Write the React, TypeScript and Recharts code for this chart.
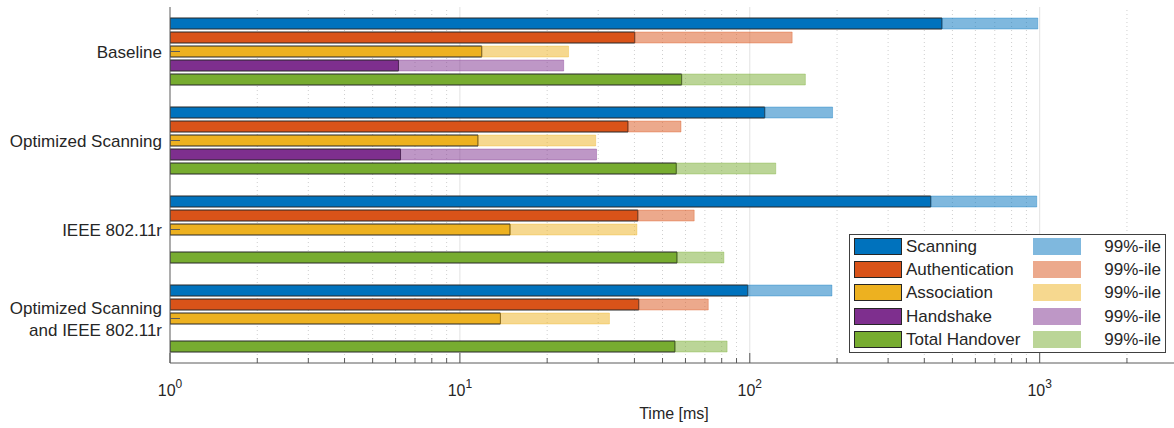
import { BarChart, Bar, XAxis, YAxis, ReferenceLine, Legend } from 'recharts'

// scenario groups (top to bottom)
const groups = ['Baseline', 'Optimized Scanning', 'IEEE 802.11r', 'Optimized Scanning\nand IEEE 802.11r']

// medians and 99th percentiles in ms
const scanningMedian = [460, 112.6, 421, 98.4]
const scanningP99 = [985, 193, 977, 192]
const authMedian = [40.1, 38.0, 41.1, 41.4]
const authP99 = [140, 57.9, 64.3, 71.9]
const assocMedian = [11.9, 11.55, 14.9, 13.8]
const assocP99 = [23.7, 29.4, 40.8, 32.8]
const handshakeMedian = [6.14, 6.24, null, null]
const handshakeP99 = [22.8, 29.6, null, null]
const totalMedian = [58.2, 55.8, 56.1, 55.2]
const totalP99 = [155.5, 122.9, 81.4, 83.5]

const seriesNames = ['Scanning', 'Authentication', 'Association', 'Handshake', 'Total Handover']
const seriesKeys = ['scan', 'auth', 'assoc', 'hand', 'total']
const medians = [scanningMedian, authMedian, assocMedian, handshakeMedian, totalMedian]
const p99s = [scanningP99, authP99, assocP99, handshakeP99, totalP99]

const xTicks = [
  1, 2, 3, 4, 5, 6, 7, 8, 9,
  10, 20, 30, 40, 50, 60, 70, 80, 90,
  100, 200, 300, 400, 500, 600, 700, 800, 900,
  1000, 2000, 3000,
]
const majorTicks = [1, 10, 100, 1000]

const COLORS = ['#0072BD', '#D95319', '#EDB120', '#7E2F8E', '#77AC30']
const TEXT = '#262626'
const AXIS = '#5a5a5a'
const FONT = '"Liberation Sans", Arial, Helvetica, sans-serif'

const data = groups.map((group, i) => {
  const row: Record<string, any> = { group }
  seriesKeys.forEach((k, s) => {
    const med = medians[s][i]
    const hi = p99s[s][i]
    row[k] = med
    row[k + 'P99'] = med != null && hi != null ? [med, hi] : null
  })
  return row
})

function XTick(props: any) {
  const { x, y, payload, top } = props
  const v = payload.value
  const major = majorTicks.includes(v)
  const len = major ? 10 : 5
  const exp = Math.round(Math.log10(v))
  if (top) {
    return <line x1={x} x2={x} y1={y} y2={y + len} stroke={AXIS} />
  }
  return (
    <g>
      <line x1={x} x2={x} y1={y} y2={y - len} stroke={AXIS} />
      {major && (
        <text x={x} y={y + 33} textAnchor="middle" fontSize={16} fill={TEXT} fontFamily={FONT}>
          10<tspan dy={-8} fontSize={12}>{exp}</tspan>
        </text>
      )}
    </g>
  )
}

function YTick(props: any) {
  const { x, y, payload, right } = props
  if (right) {
    return <line x1={x} x2={x - 10} y1={y} y2={y} stroke={AXIS} />
  }
  const lines = String(payload.value).split('\n')
  const start = y + 6.5 - ((lines.length - 1) * 22) / 2
  return (
    <g>
      <line x1={x} x2={x + 10} y1={y} y2={y} stroke={AXIS} />
      <text textAnchor="end" fontSize={17} fill={TEXT} fontFamily={FONT}>
        {lines.map((l, i) => (
          <tspan key={i} x={x - 8} y={start + i * 22}>{l}</tspan>
        ))}
      </text>
    </g>
  )
}

function LegendBox() {
  return (
    <div
      style={{
        position: 'relative',
        width: 315,
        height: 117,
        border: '1px solid #404040',
        background: '#fff',
        fontFamily: FONT,
        fontSize: 17,
        color: TEXT,
      }}
    >
      {seriesNames.map((name, s) => (
        <div key={name} style={{ position: 'absolute', left: 0, top: 3 + s * 23.2, width: '100%', height: 18 }}>
          <span
            style={{
              position: 'absolute', left: 4, top: 0, width: 46, height: 15,
              background: COLORS[s], border: '1px solid #262626',
            }}
          />
          <span style={{ position: 'absolute', left: 56, top: -1, lineHeight: '20px', whiteSpace: 'nowrap' }}>{name}</span>
          <span
            style={{
              position: 'absolute', left: 183, top: 0, width: 48, height: 17,
              background: COLORS[s], opacity: 0.5,
            }}
          />
          <span style={{ position: 'absolute', right: 4, top: -1, lineHeight: '20px', whiteSpace: 'nowrap' }}>99%-ile</span>
        </div>
      ))}
    </div>
  )
}

export default function App() {
  return (
    <div style={{ position: 'absolute', left: 0, top: 0, width: 1174, height: 428, overflow: 'hidden', background: '#fff' }}>
      <BarChart
        width={1180}
        height={428}
        data={data}
        layout="vertical"
        margin={{ top: 7, right: 2, bottom: 0, left: 0 }}
        barSize={11}
        barGap={3}
      >
        <XAxis
          type="number"
          scale="log"
          domain={[1, 3000]}
          allowDataOverflow
          ticks={xTicks}
          interval={0}
          height={65}
          tickSize={0}
          tickMargin={0}
          tickLine={false}
          axisLine={{ stroke: AXIS }}
          tick={(p: any) => <XTick {...p} />}
          label={{ value: 'Time [ms]', position: 'insideBottom', offset: 9, fontSize: 16, fill: TEXT, fontFamily: FONT }}
        />
        <XAxis
          xAxisId="top"
          orientation="top"
          type="number"
          scale="log"
          domain={[1, 3000]}
          allowDataOverflow
          ticks={xTicks}
          interval={0}
          height={0}
          tickSize={0}
          tickMargin={0}
          tickLine={false}
          axisLine={{ stroke: AXIS }}
          tick={(p: any) => <XTick {...p} top />}
        />
        <YAxis
          type="category"
          dataKey="group"
          width={170}
          tickSize={0}
          tickMargin={0}
          tickLine={false}
          interval={0}
          axisLine={{ stroke: AXIS }}
          tick={(p: any) => <YTick {...p} />}
        />
        <YAxis
          yAxisId="right"
          orientation="right"
          type="category"
          dataKey="group"
          width={0}
          tickSize={0}
          tickMargin={0}
          tickLine={false}
          interval={0}
          axisLine={{ stroke: AXIS }}
          tick={(p: any) => <YTick {...p} right />}
        />
        {xTicks.filter((v) => v > 1 && v < 3000).map((v) => (
          <ReferenceLine
            key={v}
            x={v}
            zIndex={-100}
            stroke={majorTicks.includes(v) ? '#e2e2e2' : '#cfcfcf'}
            strokeDasharray={majorTicks.includes(v) ? undefined : '1 3'}
          />
        ))}
        {seriesKeys.map((k, s) => (
          <Bar
            key={k}
            dataKey={k}
            name={seriesNames[s]}
            fill={COLORS[s]}
            stroke="#262626"
            strokeWidth={1}
            isAnimationActive={false}
          />
        ))}
        {seriesKeys.map((k, s) => (
          <Bar
            key={k + 'P99'}
            yAxisId="right"
            dataKey={k + 'P99'}
            name="99%-ile"
            fill={COLORS[s]}
            fillOpacity={0.5}
            stroke={COLORS[s]}
            strokeOpacity={0.35}
            strokeWidth={1}
            isAnimationActive={false}
          />
        ))}
        <Legend
          layout="vertical"
          align="center"
          verticalAlign="middle"
          wrapperStyle={{ left: 849, top: 234, width: 317 }}
          content={() => <LegendBox />}
        />
      </BarChart>
    </div>
  )
}
